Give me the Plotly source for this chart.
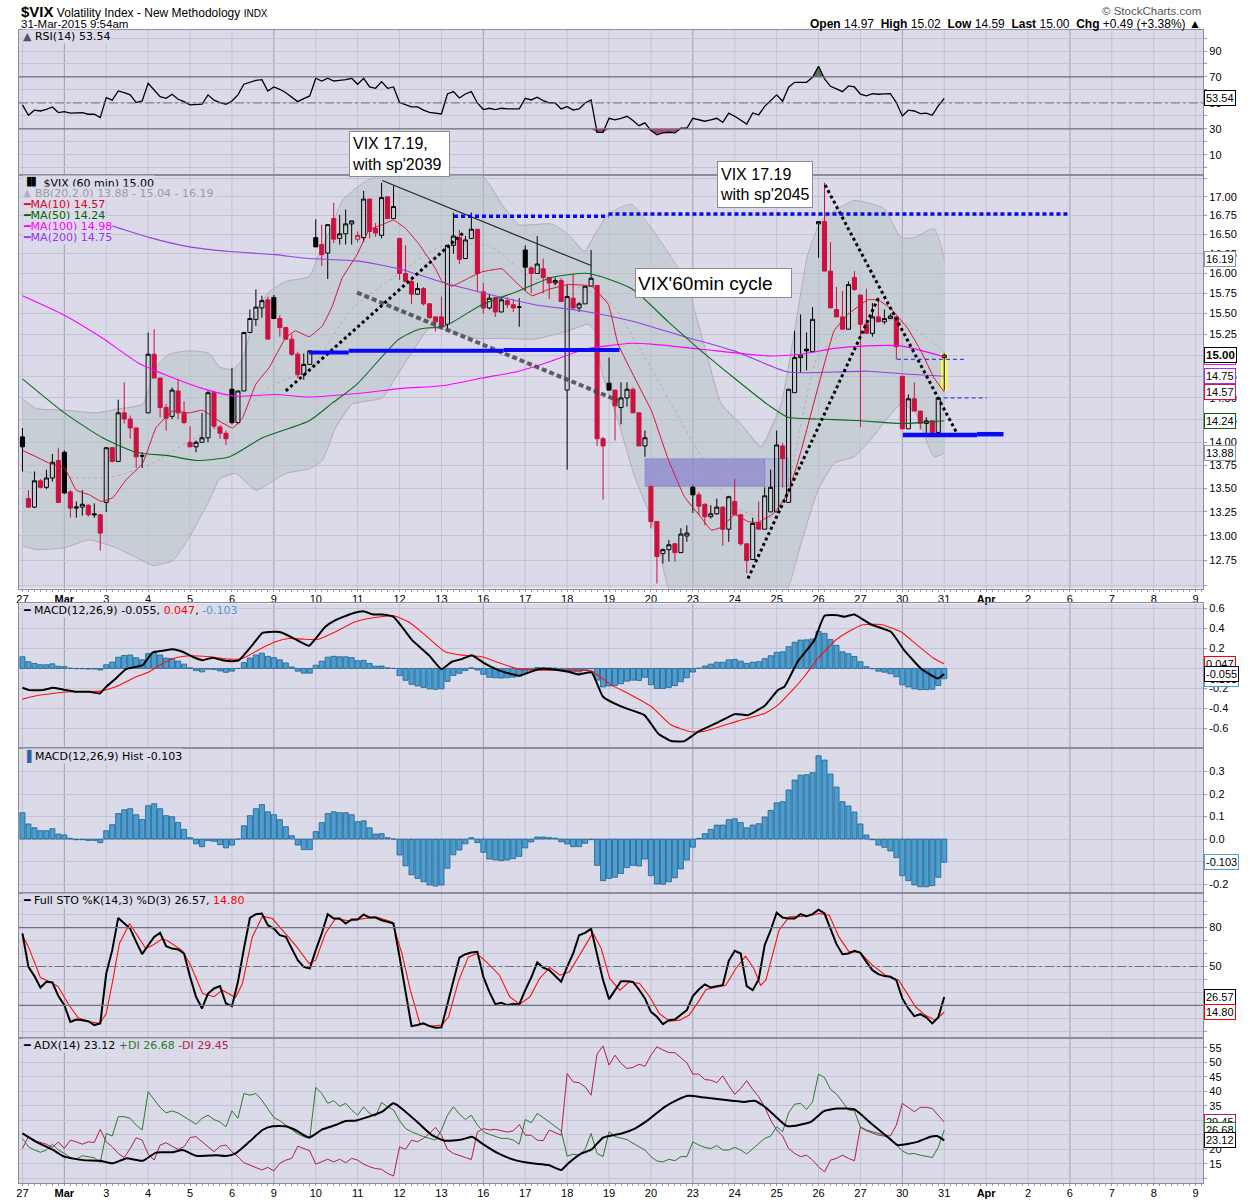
import math
import plotly.graph_objects as go

# ====================== DATA ======================
day_labels = ['27', 'Mar', '3', '4', '5', '6', '9', '10', '11', '12', '13', '16', '17', '18', '19', '20',
              '23', '24', '25', '26', '27', '30', '31', 'Apr', '2', '6', '7', '8', '9']
bars_per_day = 7
week_start_days = [1, 6, 11, 16, 21, 25]

opens = [
    14.06, 13.39, 13.30, 13.58, 13.51, 13.61, 13.80,
    13.89, 13.46, 13.29, 13.30, 13.32, 13.23, 13.22,
    13.35, 13.94, 13.79, 14.33, 14.26, 14.16, 13.85,
    14.33, 15.01, 14.73, 14.39, 14.29, 14.58, 14.33,
    14.00, 13.95, 14.00, 14.05, 14.56, 14.17, 14.10,
    14.60, 14.22, 14.58, 15.27, 15.43, 15.57, 15.67,
    15.70, 15.44, 15.33, 15.19, 15.01, 14.77, 14.89,
    16.46, 16.37, 16.26, 16.71, 16.45, 16.51, 16.64,
    16.44, 16.46, 16.97, 16.58, 16.49, 17.00, 16.71,
    16.45, 16.00, 15.90, 15.74, 15.81, 15.62, 15.46,
    15.46, 15.37, 16.36, 16.46, 16.19, 16.45, 16.57,
    15.77, 15.57, 15.70, 15.52, 15.66, 15.61, 15.58,
    16.30, 16.07, 16.00, 16.06, 15.95, 15.88, 15.91,
    14.59, 15.69, 15.57, 15.62, 15.84, 15.85, 14.04,
    14.67, 14.59, 14.39, 14.50, 14.60, 14.33, 13.96,
    13.52, 13.15, 12.82, 12.86, 12.92, 12.83, 13.00,
    13.51, 13.43, 13.33, 13.20, 13.23, 13.30, 13.07,
    13.36, 13.22, 12.92, 12.76, 13.14, 13.07, 13.25,
    13.25, 13.96, 13.35, 14.56, 14.97, 15.07, 15.04,
    16.64, 16.67, 16.03, 15.55, 15.46, 15.31, 15.95,
    15.73, 15.37, 15.26, 15.46, 15.40, 15.44, 15.46,
    14.75, 14.15, 14.49, 14.35, 14.21, 14.24, 14.11,
    14.97]
highs = [
    14.16, 13.48, 13.68, 13.60, 13.70, 13.87, 13.94,
    13.91, 13.48, 13.36, 13.48, 13.33, 13.34, 13.22,
    13.94, 13.95, 14.48, 14.68, 14.30, 14.16, 13.89,
    15.27, 15.31, 14.73, 14.43, 14.62, 14.72, 14.46,
    14.18, 14.02, 14.33, 14.58, 14.58, 14.19, 14.13,
    14.85, 14.58, 15.28, 15.55, 15.80, 15.72, 15.71,
    15.73, 15.48, 15.34, 15.25, 15.04, 15.02, 15.05,
    16.70, 16.63, 16.63, 16.92, 16.76, 16.83, 16.68,
    16.54, 17.08, 16.97, 16.65, 17.19, 17.00, 17.15,
    16.45, 16.36, 15.95, 15.88, 15.83, 15.63, 15.46,
    15.71, 16.36, 16.79, 16.56, 16.48, 16.79, 16.57,
    15.88, 15.74, 15.70, 15.70, 15.70, 15.68, 15.69,
    16.36, 16.09, 16.48, 16.19, 15.95, 15.95, 15.94,
    15.86, 16.00, 15.64, 15.84, 16.30, 15.85, 14.06,
    14.97, 14.59, 14.68, 14.68, 14.62, 14.33, 14.13,
    13.52, 13.15, 12.87, 12.96, 12.93, 13.08, 13.11,
    13.53, 13.46, 13.34, 13.32, 13.39, 13.31, 13.42,
    13.60, 13.23, 12.92, 13.19, 13.36, 13.51, 13.70,
    14.13, 13.99, 14.60, 15.29, 15.49, 15.27, 15.58,
    16.67, 17.19, 16.40, 15.83, 15.78, 15.90, 16.03,
    15.73, 15.81, 15.63, 15.70, 15.55, 15.50, 15.46,
    14.75, 14.54, 14.68, 14.35, 14.28, 14.24, 14.51,
    15.02]
lows = [
    13.68, 13.29, 13.29, 13.50, 13.49, 13.57, 13.35,
    13.44, 13.19, 13.19, 13.21, 13.20, 13.19, 12.85,
    13.25, 13.78, 13.79, 14.21, 14.04, 13.72, 13.72,
    14.33, 14.73, 14.28, 14.13, 14.26, 14.26, 14.20,
    13.95, 13.89, 14.00, 14.00, 14.15, 14.04, 13.97,
    14.20, 14.20, 14.58, 15.27, 15.35, 15.45, 15.19,
    15.44, 15.22, 15.19, 14.99, 14.73, 14.71, 14.89,
    16.34, 16.10, 15.93, 16.39, 16.37, 16.37, 16.37,
    16.40, 16.40, 16.45, 16.47, 16.45, 16.71, 16.71,
    15.92, 15.90, 15.62, 15.73, 15.60, 15.44, 15.28,
    15.34, 15.30, 16.25, 16.12, 16.19, 16.44, 15.78,
    15.50, 15.55, 15.46, 15.52, 15.57, 15.52, 15.34,
    15.78, 15.75, 16.00, 15.75, 15.68, 15.85, 15.65,
    13.70, 15.55, 15.52, 15.62, 15.84, 13.96, 13.38,
    14.59, 14.02, 14.20, 14.40, 14.33, 13.96, 13.84,
    13.08, 12.52, 12.72, 12.74, 12.74, 12.83, 12.94,
    13.24, 13.22, 13.11, 13.18, 13.22, 12.90, 12.94,
    13.22, 12.90, 12.62, 12.76, 13.07, 13.07, 13.25,
    13.25, 13.51, 13.35, 14.56, 14.79, 14.82, 15.04,
    16.20, 16.03, 15.57, 15.46, 15.31, 15.31, 15.78,
    14.17, 15.26, 15.22, 15.40, 15.37, 15.44, 14.95,
    14.15, 14.15, 14.35, 14.14, 14.10, 14.09, 14.09,
    14.59]
closes = [
    13.95, 13.30, 13.58, 13.51, 13.61, 13.78, 13.35,
    13.45, 13.29, 13.30, 13.33, 13.22, 13.22, 13.03,
    13.94, 13.79, 14.33, 14.26, 14.16, 13.84, 13.85,
    15.01, 14.73, 14.39, 14.27, 14.59, 14.33, 14.22,
    13.95, 14.00, 14.05, 14.56, 14.18, 14.10, 14.04,
    14.22, 14.58, 15.27, 15.44, 15.58, 15.66, 15.19,
    15.44, 15.33, 15.19, 15.01, 14.77, 14.89, 15.05,
    16.34, 16.24, 16.63, 16.44, 16.51, 16.64, 16.68,
    16.49, 16.97, 16.54, 16.52, 16.99, 16.71, 16.87,
    16.00, 15.90, 15.74, 15.81, 15.62, 15.45, 15.40,
    15.34, 16.36, 16.48, 16.18, 16.43, 16.57, 16.00,
    15.57, 15.69, 15.52, 15.67, 15.61, 15.57, 15.58,
    16.08, 16.00, 16.12, 15.95, 15.88, 15.91, 15.65,
    15.71, 15.57, 15.62, 15.84, 15.94, 14.04, 13.96,
    14.59, 14.41, 14.50, 14.60, 14.33, 13.96, 14.05,
    13.15, 12.79, 12.86, 12.91, 12.83, 13.02, 13.03,
    13.43, 13.31, 13.20, 13.23, 13.30, 13.07, 13.41,
    13.22, 12.92, 12.75, 13.13, 13.07, 13.42, 13.51,
    13.97, 13.82, 14.60, 14.97, 15.00, 15.05, 15.43,
    16.67, 16.03, 15.57, 15.46, 15.31, 15.86, 15.80,
    15.37, 15.26, 15.46, 15.40, 15.44, 15.47, 15.10,
    14.15, 14.49, 14.35, 14.21, 14.24, 14.11, 14.50,
    15.00]
prev_day_close = 14.51

# overlays: (bar index, value)
ma10_pts = [(0, 13.91), (2.3, 13.84), (4.5, 13.77), (7, 13.72), (9, 13.48), (11.2, 13.43), (13.1, 13.36),
            (15.1, 13.40), (17.3, 13.59), (20.1, 13.77), (22.3, 14.16), (25.1, 14.35), (27.9, 14.33),
            (30.1, 14.36), (32.3, 14.26), (35.1, 14.16), (36.75, 14.27), (39, 14.66), (41.2, 14.85),
            (44, 15.21), (45.6, 15.29), (47.9, 15.22), (50.1, 15.35), (51.75, 15.59), (53.4, 15.94),
            (55.9, 16.24), (57.9, 16.56), (60.1, 16.63), (62, 16.69), (64, 16.58), (66.2, 16.38),
            (69, 16.06), (70.1, 15.90), (71.75, 15.84), (74.5, 15.94), (76.75, 16.02), (80.1, 16.06),
            (82.3, 15.90), (85.1, 15.72), (87.9, 15.80), (91.2, 15.86), (95.1, 15.84), (97.9, 15.61),
            (99.5, 15.13), (102.3, 14.73), (105.1, 14.35), (107.9, 13.81), (110.6, 13.41), (113.4, 13.19),
            (115.1, 13.06), (116.75, 13.09), (119, 13.22), (121.2, 13.15), (122.9, 13.14), (125.6, 13.24),
            (127.9, 13.45), (130.1, 13.91), (132.9, 14.62), (135.6, 15.29), (137.9, 15.49), (141.25, 15.67),
            (142.9, 15.67), (145.1, 15.56), (147.9, 15.32), (150.1, 15.05), (152.3, 14.73), (154, 14.57)]
ma50_pts = [(0, 14.72), (7, 14.33), (13.4, 14.05), (19, 13.89), (24.6, 13.85), (29, 13.80), (34.6, 13.84),
            (40.1, 14.05), (47.9, 14.24), (51.75, 14.44), (55.9, 14.66), (62.9, 15.19), (66.3, 15.31),
            (70.6, 15.35), (76.75, 15.61), (82.9, 15.78), (88.4, 15.95), (94.6, 16.00), (101.75, 15.81),
            (107.9, 15.40), (113.4, 15.05), (118.9, 14.73), (124.6, 14.42), (127.9, 14.28), (132.9, 14.26),
            (140.1, 14.24), (146.75, 14.21), (150.1, 14.22), (154, 14.24)]
ma100_pts = [(0, 15.72), (7, 15.48), (13.4, 15.20), (19.5, 14.90), (24.5, 14.75), (30, 14.61), (35.6, 14.52),
             (42.25, 14.54), (47.9, 14.51), (55.9, 14.55), (63.4, 14.61), (70.1, 14.64), (76.75, 14.73),
             (82.9, 14.81), (88.4, 14.93), (94, 15.07), (101.75, 15.14), (105.1, 15.13), (113.4, 15.07),
             (124.5, 14.99), (130, 15.01), (135.6, 15.08), (141.25, 15.11), (146.75, 15.11), (154, 14.98)]
ma200_pts = [(0, 16.88), (11.75, 16.73), (13.4, 16.66), (21.3, 16.46), (27.9, 16.34), (34.6, 16.28),
             (42.25, 16.24), (47.9, 16.19), (55.9, 16.16), (62.9, 16.06), (70.1, 15.89), (77.9, 15.74),
             (85.6, 15.61), (93.9, 15.53), (101.75, 15.41), (110.6, 15.22), (118.9, 15.05), (127.9, 14.80),
             (135.6, 14.80), (141.25, 14.81), (146.75, 14.78), (154, 14.75)]
bb_upper_pts = [(0, 14.49), (2.3, 14.38), (7, 14.36), (12.3, 14.33), (15.6, 14.37), (20.1, 14.43), (22.3, 14.86),
                (24.5, 15.01), (27.9, 15.05), (31.2, 15.02), (32.9, 14.86), (35.1, 14.83), (36.75, 14.95),
                (39, 15.52), (41.2, 15.77), (44, 15.90), (47.9, 15.96), (49.5, 16.24), (51.75, 16.62),
                (53.4, 16.95), (56.75, 17.18), (60.6, 17.33), (63.4, 17.40), (68.4, 17.45), (73.4, 17.40),
                (76.2, 17.33), (77.9, 17.18), (80.1, 16.90), (82.9, 16.63), (88.4, 16.64), (91.2, 16.50),
                (93.9, 16.28), (95.6, 16.50), (97.9, 16.77), (101.75, 16.90), (105.1, 16.58), (110.6, 15.93),
                (114.5, 14.96), (116.75, 14.43), (120.1, 14.20), (123.4, 13.95), (126.75, 14.43), (129, 15.29),
                (131.2, 16.24), (133.4, 16.68), (135.6, 16.81), (138.9, 16.95), (141.25, 16.92), (144, 16.84),
                (146.75, 16.46), (149, 16.46), (152.3, 16.58), (154, 16.19)]
bb_lower_pts = [(0, 12.90), (2.3, 12.86), (7, 12.88), (11.2, 12.96), (15.6, 12.88), (19, 12.78), (21.75, 12.70),
                (25.1, 12.75), (27.9, 12.99), (31.2, 13.37), (32.9, 13.60), (35.6, 13.66), (39, 13.48),
                (44, 13.66), (47.9, 13.71), (50.1, 13.80), (52.3, 14.16), (55.1, 14.43), (60.1, 14.50),
                (62.3, 14.73), (65.6, 15.09), (67.9, 15.32), (71.75, 15.29), (75.6, 15.20), (80.1, 15.20),
                (85.6, 15.19), (91.2, 15.29), (94.5, 15.37), (95.6, 15.29), (96.75, 14.81), (99.5, 14.24),
                (102.3, 13.62), (105.1, 13.17), (107.9, 12.48), (110, 12.25), (116.75, 12.10), (123.4, 12.20),
                (127.9, 12.48), (130.1, 12.93), (132.9, 13.48), (135.6, 13.77), (138.9, 13.84), (141.25, 13.99),
                (144.5, 14.27), (146.75, 14.43), (149, 14.35), (151.2, 13.99), (152.3, 13.84), (154, 13.88)]
bb_mid_pts = [(0, 13.68), (7, 13.62), (15, 13.62), (22, 13.78), (28, 14.02), (35, 14.25), (42, 14.65),
              (48, 14.84), (55, 15.55), (62, 15.95), (70, 16.35), (78, 16.35), (85, 15.95), (92, 15.85),
              (98, 15.65), (105, 14.85), (112, 14.00), (119, 13.30), (126, 13.20), (133, 15.00), (140, 15.40),
              (147, 15.40), (154, 15.04)]

rsi = [48.5, 40.5, 44.4, 43.8, 45.1, 46.9, 42.6, 43.3, 42.1, 42.1, 42.6, 41.3, 41.3, 38.7,
       54.1, 52.1, 59.2, 57.9, 56.2, 50.3, 51.5, 65.2, 59.8, 54.9, 53.6, 56.7, 52.8, 51.0,
       48.5, 49.0, 49.0, 56.2, 52.1, 50.3, 49.0, 51.5, 56.2, 64.4, 65.9, 67.4, 67.9, 59.2,
       62.3, 60.5, 57.9, 54.1, 51.0, 53.3, 55.4, 69.0, 66.9, 69.0, 66.9, 67.4, 67.9, 69.0,
       64.4, 69.0, 62.3, 61.3, 66.4, 61.3, 62.3, 50.3, 48.5, 46.9, 46.9, 44.5, 42.8, 42.0,
       41.5, 56.9, 58.7, 53.8, 56.9, 58.7, 50.0, 44.9, 45.9, 44.9, 45.9, 45.4, 45.4, 45.4,
       53.6, 52.3, 54.4, 51.8, 50.0, 50.0, 45.4, 47.2, 44.6, 45.4, 50.0, 52.3, 27.4, 27.4,
       38.2, 36.9, 38.2, 39.7, 36.4, 32.5, 34.6, 28.7, 25.4, 26.9, 27.4, 26.9, 30.5, 30.5,
       38.2, 37.2, 35.9, 36.9, 38.2, 35.1, 42.1, 39.7, 36.4, 33.8, 42.3, 40.8, 47.4, 51.8,
       56.2, 51.3, 62.1, 65.9, 65.9, 65.9, 69.8, 78.2, 68.5, 62.8, 60.8, 58.7, 63.1, 62.3,
       56.7, 55.4, 57.2, 56.7, 57.0, 57.2, 50.3, 40.0, 44.4, 43.8, 41.8, 42.1, 40.5, 47.7,
       53.54]

macd_pts = [(0, -0.193), (1.2, -0.217), (3.4, -0.217), (5.1, -0.193), (6.75, -0.21), (9, -0.233), (11.2, -0.233),
            (12.9, -0.25), (14, -0.183), (15.6, -0.10), (17.3, -0.007), (19, 0.017), (20.1, 0.033), (21.75, 0.16),
            (23.4, 0.177), (25.1, 0.193), (26.75, 0.167), (28.4, 0.117), (30.1, 0.083), (31.75, 0.107),
            (33.4, 0.083), (35.1, 0.073), (36.2, 0.083), (38.4, 0.233), (40.1, 0.357), (42.3, 0.367),
            (43.4, 0.357), (45.6, 0.293), (47.9, 0.227), (49, 0.30), (50.6, 0.417), (52.3, 0.483), (55.1, 0.55),
            (57, 0.573), (58.4, 0.543), (60.1, 0.54), (62, 0.517), (63.4, 0.417), (65.1, 0.283), (67.9, 0.133),
            (70, -0.007), (71.75, 0.067), (73.4, 0.093), (75.1, 0.133), (77.2, 0.05), (79.5, -0.017),
            (82.9, -0.073), (86.2, -0.007), (88.4, -0.007), (91.2, -0.033), (92.9, -0.06), (95.1, -0.04),
            (97, -0.283), (100.1, -0.383), (103.9, -0.467), (106.2, -0.65), (108.4, -0.727), (110.6, -0.727),
            (112.9, -0.633), (116.2, -0.54), (119, -0.457), (121.2, -0.467), (124, -0.373), (126.2, -0.217),
            (127.3, -0.183), (129.5, 0.067), (132.3, 0.283), (134, 0.527), (136.2, 0.533), (137.3, 0.517),
            (139, 0.54), (141.75, 0.44), (145.1, 0.367), (147.3, 0.183), (150.1, 0.0), (152.9, -0.10),
            (154, -0.055)]
signal_pts = [(0, -0.307), (2.3, -0.273), (5.1, -0.25), (7.9, -0.233), (12.9, -0.227), (15.6, -0.183),
              (19, -0.083), (21.2, -0.033), (23.4, 0.05), (25.6, 0.107), (27.9, 0.127), (31.2, 0.117),
              (34.5, 0.093), (36.75, 0.10), (40.1, 0.207), (42.3, 0.267), (44.5, 0.30), (46.75, 0.293),
              (49.5, 0.293), (52.3, 0.367), (55.6, 0.467), (58.9, 0.51), (62, 0.527), (64.5, 0.467),
              (67.3, 0.333), (70.6, 0.167), (73.4, 0.133), (76.75, 0.117), (79.5, 0.06), (82.9, -0.007),
              (87.3, -0.017), (91.75, -0.017), (95.1, -0.027), (98.4, -0.167), (101.2, -0.25), (105.1, -0.383),
              (108.4, -0.567), (111.75, -0.633), (114, -0.627), (119.5, -0.527), (124, -0.45), (126.2, -0.367),
              (128.4, -0.233), (130.6, -0.083), (132.9, 0.10), (136.2, 0.30), (140.1, 0.433), (143.4, 0.44),
              (146.75, 0.367), (149.5, 0.233), (152.3, 0.10), (154, 0.047)]
macd_hist = [0.117, 0.067, 0.050, 0.037, 0.037, 0.046, 0.022,
             0.018, 0.003, -0.003, -0.003, -0.006, -0.006, -0.016,
             0.037, 0.064, 0.113, 0.130, 0.135, 0.108, 0.087,
             0.148, 0.157, 0.135, 0.104, 0.099, 0.074, 0.043,
             0.006, -0.021, -0.034, -0.007, -0.010, -0.025, -0.039,
             -0.027, 0.000, 0.059, 0.104, 0.135, 0.153, 0.121,
             0.108, 0.086, 0.055, 0.015, -0.027, -0.047, -0.047,
             0.033, 0.073, 0.113, 0.121, 0.117, 0.117, 0.108,
             0.077, 0.081, 0.050, 0.022, 0.024, 0.006, 0.000,
             -0.071, -0.119, -0.159, -0.175, -0.190, -0.204, -0.209,
             -0.204, -0.130, -0.070, -0.049, -0.021, 0.006, -0.016,
             -0.059, -0.089, -0.093, -0.096, -0.093, -0.087, -0.077,
             -0.039, -0.013, 0.009, 0.009, 0.006, 0.004, -0.012,
             -0.022, -0.034, -0.034, -0.019, -0.003, -0.117, -0.185,
             -0.175, -0.170, -0.153, -0.127, -0.117, -0.120, -0.089,
             -0.163, -0.200, -0.201, -0.190, -0.172, -0.133, -0.093,
             -0.036, 0.003, 0.024, 0.043, 0.062, 0.062, 0.086,
             0.090, 0.073, 0.050, 0.062, 0.068, 0.098, 0.127,
             0.161, 0.166, 0.218, 0.262, 0.284, 0.286, 0.295,
             0.370, 0.351, 0.289, 0.231, 0.166, 0.147, 0.120,
             0.067, 0.018, -0.003, -0.027, -0.037, -0.053, -0.083,
             -0.163, -0.185, -0.204, -0.212, -0.212, -0.207, -0.170,
             -0.103]

sto_k = [75.4, 49.7, 42.6, 33.8, 38.2, 37.7, 27.2, 20.3, 7.4, 9.2, 8.7, 7.9, 4.9, 6.2,
         44.6, 62.6, 87.4, 83.1, 79.2, 69.0, 59.5, 66.4, 72.8, 75.9, 65.6, 63.8, 63.1, 60.0,
         42.1, 26.7, 17.7, 29.2, 33.1, 34.9, 21.5, 19.5, 38.2, 63.8, 87.4, 90.3, 90.8, 81.8,
         79.2, 74.1, 72.8, 63.8, 54.9, 49.7, 48.5, 62.6, 75.4, 90.3, 86.9, 86.9, 83.1, 86.2,
         86.2, 90.0, 87.7, 87.7, 85.6, 84.4, 83.1, 57.4, 31.8, 4.1, 4.9, 6.2, 4.1, 2.8,
         3.1, 21.5, 40.8, 56.9, 59.5, 60.8, 61.3, 42.1, 30.5, 21.0, 22.1, 20.3, 21.3, 20.8,
         31.8, 41.5, 53.1, 49.2, 47.2, 42.6, 38.2, 49.7, 60.0, 74.1, 75.9, 79.2, 60.0, 39.5,
         24.9, 31.8, 38.7, 38.7, 38.2, 32.3, 25.4, 15.1, 11.3, 5.6, 8.7, 9.2, 12.6, 16.4,
         27.2, 32.3, 36.2, 33.8, 34.9, 35.6, 54.4, 62.1, 60.0, 34.9, 31.8, 40.0, 66.4, 77.9,
         91.5, 87.7, 86.9, 86.9, 90.3, 88.7, 90.3, 93.8, 90.8, 79.2, 67.2, 59.5, 60.0, 62.1,
         60.5, 53.6, 47.2, 44.1, 42.6, 42.1, 39.5, 25.4, 17.7, 11.8, 13.3, 10.8, 6.2, 10.8,
         26.57]
sto_d_pts = [(0, 74.1), (1, 65.1), (3, 41.5), (5, 37.4), (6, 34.4), (7.6, 21.5), (9.3, 10.5), (11.2, 7.4),
             (12.9, 6.2), (14, 13.8), (15.1, 39.5), (16.2, 67.7), (17.9, 83.1), (19, 75.4), (20.6, 63.8),
             (21.75, 66.4), (23.4, 71.5), (24.5, 69.0), (26.75, 62.1), (28.1, 51.0), (30.1, 29.2), (32, 26.7),
             (33.4, 31.8), (35.6, 26.2), (36.75, 36.9), (38.4, 72.8), (40.1, 88.7), (41.75, 86.9), (44, 75.4),
             (45.6, 66.4), (47.9, 52.3), (49, 54.9), (50.6, 75.4), (52.3, 86.9), (54.5, 85.1), (56.75, 86.9),
             (59, 88.2), (61.75, 84.4), (63.4, 60.0), (64.8, 31.8), (66.4, 6.2), (68.4, 4.1), (70.1, 4.9),
             (71.2, 11.3), (72.9, 39.5), (74.5, 57.4), (75.9, 60.0), (77.5, 53.6), (79.7, 43.3), (81.4, 26.7),
             (83.1, 21.0), (84.8, 26.7), (86.4, 40.8), (88.1, 49.2), (89.8, 43.3), (91.4, 45.9), (93.1, 58.7),
             (95.3, 75.9), (96.7, 63.8), (98.1, 40.8), (99.8, 31.8), (101.4, 38.2), (103.1, 36.9), (104.8, 26.7),
             (106.4, 13.8), (108.1, 7.9), (109.8, 8.7), (111.4, 12.6), (113.1, 24.1), (114.2, 32.3),
             (116.4, 34.4), (117.5, 35.6), (119.2, 48.5), (120.8, 57.9), (122.2, 48.5), (123.3, 35.6),
             (124.2, 39.5), (126.4, 77.9), (128.1, 88.2), (130.9, 88.7), (133.1, 90.8), (134.8, 89.5),
             (136.4, 72.8), (138.1, 61.3), (139.8, 61.3), (142, 51.0), (144.2, 43.3), (146.4, 39.5),
             (149.2, 19.0), (150.8, 12.6), (152.5, 8.7), (154, 14.80)]

adx_pts = [(0, 25.5), (2.3, 22.6), (5.1, 19.8), (7, 17.5), (10.1, 16.3), (12.9, 16.1), (15.1, 15.2), (17.3, 16.9),
           (20.1, 16.1), (22.3, 18.9), (25.1, 19.0), (26.75, 19.8), (29, 17.8), (32.3, 18.0), (34, 17.7),
           (35.6, 18.6), (37.9, 22.6), (40.1, 26.7), (41.75, 28.0), (44, 28.0), (45.6, 26.7), (47.9, 24.1),
           (50.1, 26.9), (52.3, 28.4), (54, 29.8), (55.6, 29.9), (57.9, 31.3), (60.1, 33.0), (62, 35.9),
           (64, 33.0), (66.2, 29.0), (68.4, 24.9), (70.6, 23.0), (73.4, 23.4), (75.1, 24.4), (76.75, 22.1),
           (79.5, 18.6), (82.3, 16.3), (85.1, 15.2), (87.9, 14.6), (90, 12.9), (91.2, 15.2), (93.4, 18.6),
           (95.1, 20.0), (97, 24.1), (100.1, 25.5), (102.3, 27.2), (104.5, 30.1), (107.3, 34.7), (109.5, 37.2),
           (111.2, 38.5), (114, 37.9), (116.75, 37.2), (120.6, 36.4), (122.3, 36.8), (124, 34.7), (125.6, 31.8),
           (127.8, 28.0), (131.7, 29.5), (133.9, 33.2), (136.2, 34.1), (139, 33.8), (141.75, 29.0),
           (144.5, 24.4), (146.2, 21.5), (149.5, 22.6), (151.7, 24.4), (152.8, 24.6), (154, 23.12)]
plus_di = [23.8, 20.9, 19.8, 19.0, 19.8, 21.8, 19.8, 18.6, 17.1, 16.6, 17.8, 17.5, 17.1, 15.5,
           25.5, 24.6, 31.3, 31.3, 30.7, 28.4, 26.7, 39.9, 37.0, 34.5, 32.6, 33.3, 32.6, 31.3,
           30.1, 28.7, 30.7, 31.8, 30.3, 29.5, 27.8, 33.3, 30.7, 39.3, 38.7, 39.3, 37.0, 34.1,
           31.0, 29.9, 28.4, 26.9, 25.3, 24.4, 23.8, 41.4, 39.3, 35.9, 36.8, 34.9, 35.9, 33.6,
           31.8, 34.7, 32.4, 31.5, 36.2, 34.7, 33.6, 29.9, 27.2, 26.1, 25.2, 24.4, 23.8, 23.2,
           26.7, 31.8, 34.7, 32.2, 30.3, 31.8, 28.4, 26.1, 25.2, 24.4, 23.8, 23.8, 23.2, 21.8,
           30.3, 29.2, 32.4, 31.0, 29.5, 28.0, 26.4, 17.7, 18.3, 18.0, 20.0, 25.5, 18.6, 17.5,
           26.1, 24.4, 24.0, 23.4, 22.1, 20.9, 19.8, 17.5, 16.0, 15.7, 16.6, 16.1, 17.5, 17.5,
           22.6, 21.5, 20.7, 20.3, 21.3, 19.8, 19.8, 20.7, 19.8, 18.4, 20.3, 22.1, 23.8, 24.6,
           27.8, 26.1, 32.6, 35.6, 35.9, 33.8, 36.4, 46.0, 44.8, 40.7, 39.1, 36.4, 33.6, 33.3,
           27.6, 26.4, 25.7, 24.9, 24.6, 23.8, 21.5, 19.5, 18.4, 18.6, 18.0, 17.7, 17.2, 20.7,
           26.68]
minus_di = [20.3, 24.4, 23.0, 22.3, 21.8, 20.7, 22.6, 20.3, 23.2, 22.6, 21.8, 22.6, 22.4, 26.9,
            22.6, 20.9, 18.6, 17.2, 20.3, 24.0, 23.2, 18.4, 16.3, 21.5, 22.3, 21.1, 20.0, 20.9,
            24.1, 24.4, 22.6, 20.7, 19.2, 21.1, 21.5, 19.2, 17.5, 15.4, 14.6, 13.8, 12.9, 13.8,
            12.6, 15.2, 16.3, 16.9, 21.1, 20.3, 19.5, 14.9, 15.7, 16.6, 15.7, 16.6, 15.4, 16.9,
            16.3, 14.9, 14.0, 13.4, 13.1, 11.7, 10.8, 20.9, 20.0, 23.2, 22.6, 23.8, 25.5, 27.6,
            24.9, 20.0, 18.6, 17.8, 17.2, 16.5, 26.0, 27.2, 26.7, 26.9, 26.4, 26.0, 26.4, 28.6,
            24.9, 24.9, 23.2, 23.0, 26.7, 25.7, 24.9, 46.2, 43.3, 43.0, 41.6, 38.7, 52.9, 55.7,
            49.1, 52.5, 49.7, 47.9, 48.3, 49.4, 48.7, 52.5, 55.4, 54.3, 53.4, 53.4, 51.6, 49.9,
            46.0, 46.0, 44.1, 43.9, 43.0, 45.4, 42.0, 39.0, 41.0, 43.7, 40.7, 38.2, 34.7, 30.1,
            26.7, 24.6, 20.3, 18.6, 17.5, 18.0, 16.3, 14.0, 12.2, 16.3, 16.9, 18.0, 16.9, 16.1,
            27.8, 26.7, 26.1, 25.5, 24.9, 24.6, 28.4, 35.9, 34.5, 33.0, 34.5, 34.5, 34.1, 31.8,
            29.45]

# hand-drawn chart annotations, as (bar index, price)
resistance_dotted = [[(72.1, 16.74), (97.9, 16.74)], [(97.9, 16.77), (174.75, 16.77)]]
support_solid_mid = [[(47.9, 15.03), (54.5, 15.03)], [(54.5, 15.05), (80.4, 15.05)], [(80.4, 15.06), (99.75, 15.06)]]
support_solid_low = [[(147.1, 14.08), (159.5, 14.08)], [(159.5, 14.09), (163.9, 14.09)]]
thin_dashed_levels = [[(146.1, 14.95), (157.8, 14.95)], [(153.9, 14.50), (161.1, 14.50)]]
thin_trendline = [(60.1, 17.22), (95.0, 16.10)]
black_dotted_lines = [[(44.0, 14.58), (73.9, 16.54)], [(121.2, 12.57), (143.1, 15.71)], [(134.1, 17.16), (156.2, 14.09)]]
gray_dashed_line = [(55.9, 15.76), (99.5, 14.47)]
zone_purple = [(104.0, 13.52), (124.0, 13.82)]
zone_gray = [(124.0, 13.52), (128.0, 13.82)]
note_texts = ["VIX 17.19,<br>with sp'2039", "VIX 17.19<br>with sp'2045", "VIX'60min cycle"]

# ====================== STYLE / LAYOUT ======================
W, H = 1250, 1200
BG = '#dadae8'
GRID = '#c3c3d4'
WEEK = '#9e9eb2'
AXL = '#8c8c9a'
DARK = '#707080'
RED = '#cc1140'
TICKFONT = 'Liberation Sans, Arial, sans-serif'
LEGFONT = 'DejaVu Sans, Verdana, sans-serif'

X0, X1 = 16, 1203
BAR0, BARW = 19.5, 6.0
xr = [(X0 - BAR0) / BARW, (X1 - BAR0) / BARW]


def xpx(px):
    return px / W


def ypx(py):
    return 1 - py / H


panels = {'': (29, 174), '2': (174, 588), '3': (603, 748), '4': (748, 893), '5': (893, 1038), '6': (1038, 1183)}

lg_lo = math.log10(12.75) - 28 / 2913
lg_hi = math.log10(17.0) + 22 / 2913

n = len(closes)
idx = list(range(n))
tickvals = [bars_per_day * k for k in range(len(day_labels))]
ticktext = ['<b>%s</b>' % t if t in ('Mar', 'Apr') else t for t in day_labels]


def xs(pts):
    return [p[0] for p in pts]


def ys(pts):
    return [p[1] for p in pts]


fig = go.Figure()

# ---- RSI panel ----
rsi_hi = [max(v, 70) for v in rsi]
rsi_lo = [min(v, 30) for v in rsi]
fig.add_trace(go.Scatter(x=idx, y=[70] * n, mode='lines', line=dict(width=0), hoverinfo='skip', xaxis='x', yaxis='y'))
fig.add_trace(go.Scatter(x=idx, y=rsi_hi, mode='lines', line=dict(width=0), fill='tonexty', fillcolor='#5f7464',
                         hoverinfo='skip', xaxis='x', yaxis='y'))
fig.add_trace(go.Scatter(x=idx, y=[30] * n, mode='lines', line=dict(width=0), hoverinfo='skip', xaxis='x', yaxis='y'))
fig.add_trace(go.Scatter(x=idx, y=rsi_lo, mode='lines', line=dict(width=0), fill='tonexty', fillcolor='#b24a78',
                         hoverinfo='skip', xaxis='x', yaxis='y'))
fig.add_trace(go.Scatter(x=idx, y=rsi, mode='lines', line=dict(color='black', width=1.3), xaxis='x', yaxis='y'))

# ---- Main price panel: base layer (y2) ----
bb_poly_x = xs(bb_upper_pts) + xs(bb_lower_pts)[::-1]
bb_poly_y = ys(bb_upper_pts) + ys(bb_lower_pts)[::-1]
fig.add_trace(go.Scatter(x=bb_poly_x, y=bb_poly_y, mode='lines', fill='toself', fillcolor='rgba(180,193,195,0.5)',
                         line=dict(width=0), hoverinfo='skip', xaxis='x2', yaxis='y2'))
for pts in (bb_upper_pts, bb_lower_pts):
    fig.add_trace(go.Scatter(x=xs(pts), y=ys(pts), mode='lines',
                             line=dict(color='#b9a9ba', width=1, shape='spline', smoothing=0.5),
                             hoverinfo='skip', xaxis='x2', yaxis='y2'))
fig.add_trace(go.Scatter(x=xs(bb_mid_pts), y=ys(bb_mid_pts), mode='lines',
                         line=dict(color='#c4a4b6', width=1, dash='dot', shape='spline', smoothing=0.6),
                         hoverinfo='skip', xaxis='x2', yaxis='y2'))
for zone, col in ((zone_purple, 'rgba(118,108,205,0.55)'), (zone_gray, 'rgba(170,172,205,0.65)')):
    (za, zb) = zone
    fig.add_trace(go.Scatter(x=[za[0], zb[0], zb[0], za[0], za[0]], y=[za[1], za[1], zb[1], zb[1], za[1]],
                             mode='lines', fill='toself', fillcolor=col,
                             line=dict(width=0.6, color='rgba(90,90,190,0.5)'),
                             hoverinfo='skip', xaxis='x2', yaxis='y2'))
last = n - 1
fig.add_trace(go.Scatter(x=[last - 0.55, last + 0.55, last + 0.55, last - 0.55, last - 0.55],
                         y=[lows[last], lows[last], highs[last], highs[last], lows[last]],
                         mode='lines', fill='toself', fillcolor='rgba(255,255,80,0.9)', line=dict(width=0),
                         hoverinfo='skip', xaxis='x2', yaxis='y2'))

# ---- candles (overlay y7) ----
black_ids = [i for i in idx if i == 0 or closes[i] >= closes[i - 1]]
black_set = set(black_ids)
red_ids = [i for i in idx if i not in black_set]
for ids, col in ((black_ids, 'black'), (red_ids, RED)):
    fig.add_trace(go.Candlestick(
        x=ids, open=[opens[i] for i in ids], high=[highs[i] for i in ids],
        low=[lows[i] for i in ids], close=[closes[i] for i in ids],
        increasing=dict(line=dict(color=col, width=1), fillcolor='rgba(0,0,0,0)'),
        decreasing=dict(line=dict(color=col, width=1), fillcolor=col),
        whiskerwidth=0, hoverinfo='skip', xaxis='x2', yaxis='y7'))

# ---- moving averages + drawings (overlay y8) ----
for pts, col, w, sm in ((ma200_pts, '#9a3ee6', 1.1, 0.6), (ma100_pts, '#ff00ff', 1.1, 0.6),
                        (ma50_pts, '#0b6b1b', 1.1, 0.6), (ma10_pts, '#dd1133', 1.0, 0.3)):
    fig.add_trace(go.Scatter(x=xs(pts), y=ys(pts), mode='lines',
                             line=dict(color=col, width=w, shape='spline', smoothing=sm),
                             hoverinfo='skip', xaxis='x2', yaxis='y8'))


def seg_trace(segs, color, width, dash=None):
    xx, yy = [], []
    for s in segs:
        xx += [s[0][0], s[1][0], None]
        yy += [s[0][1], s[1][1], None]
    return go.Scatter(x=xx, y=yy, mode='lines', line=dict(color=color, width=width, dash=dash),
                      hoverinfo='skip', xaxis='x2', yaxis='y8')


fig.add_trace(seg_trace([thin_trendline], '#222222', 1.1))
fig.add_trace(seg_trace([gray_dashed_line], 'rgba(70,70,70,0.85)', 4, '5px,3px'))
fig.add_trace(seg_trace(black_dotted_lines, 'black', 3, '3px,3px'))
fig.add_trace(seg_trace(resistance_dotted, '#0a0aee', 3.5, '4px,3px'))
fig.add_trace(seg_trace(support_solid_mid, '#0a0af5', 4))
fig.add_trace(seg_trace(support_solid_low, '#0a0af5', 4.5))
fig.add_trace(seg_trace(thin_dashed_levels, '#1a1aee', 1, '4px,3px'))

# ---- MACD panel ----
fig.add_trace(go.Bar(x=idx, y=macd_hist, width=0.85,
                     marker=dict(color='#4c9dd0', line=dict(color='#1f5f8a', width=0.8)),
                     hoverinfo='skip', xaxis='x3', yaxis='y3'))
fig.add_trace(go.Scatter(x=xs(signal_pts), y=ys(signal_pts), mode='lines',
                         line=dict(color='#ff1010', width=1.1, shape='spline', smoothing=0.5),
                         hoverinfo='skip', xaxis='x3', yaxis='y3'))
fig.add_trace(go.Scatter(x=xs(macd_pts), y=ys(macd_pts), mode='lines',
                         line=dict(color='black', width=2, shape='spline', smoothing=0.4),
                         hoverinfo='skip', xaxis='x3', yaxis='y3'))

# ---- MACD hist panel ----
fig.add_trace(go.Bar(x=idx, y=macd_hist, width=0.85,
                     marker=dict(color='#4c9dd0', line=dict(color='#1f5f8a', width=0.8)),
                     hoverinfo='skip', xaxis='x4', yaxis='y4'))

# ---- STO panel ----
fig.add_trace(go.Scatter(x=xs(sto_d_pts), y=ys(sto_d_pts), mode='lines', line=dict(color='#ff1010', width=1.1),
                         hoverinfo='skip', xaxis='x5', yaxis='y5'))
fig.add_trace(go.Scatter(x=idx, y=sto_k, mode='lines', line=dict(color='black', width=2),
                         hoverinfo='skip', xaxis='x5', yaxis='y5'))

# ---- ADX panel ----
fig.add_trace(go.Scatter(x=idx, y=minus_di, mode='lines', line=dict(color='#b01e4e', width=1),
                         hoverinfo='skip', xaxis='x6', yaxis='y6'))
fig.add_trace(go.Scatter(x=idx, y=plus_di, mode='lines', line=dict(color='#2b7b2b', width=1),
                         hoverinfo='skip', xaxis='x6', yaxis='y6'))
fig.add_trace(go.Scatter(x=xs(adx_pts), y=ys(adx_pts), mode='lines',
                         line=dict(color='black', width=2, shape='spline', smoothing=0.5),
                         hoverinfo='skip', xaxis='x6', yaxis='y6'))

# ---------------- axes ----------------
layout = dict(width=W, height=H, margin=dict(l=0, r=0, t=0, b=0), autosize=False,
              paper_bgcolor='white', plot_bgcolor=BG, showlegend=False,
              boxgap=0.2, boxgroupgap=0.15,
              font=dict(family=TICKFONT, size=11, color='black'))

yconf = {
    '': dict(range=[-5.4, 106.2], tickvals=list(range(0, 101, 10)),
             ticktext=[str(v) if v in (10, 30, 50, 70, 90) else '' for v in range(0, 101, 10)]),
    '2': dict(type='log', range=[lg_lo, lg_hi], tickvals=[12.5 + 0.25 * k for k in range(20)],
              ticktext=['%.2f' % (12.5 + 0.25 * k) if 1 <= k <= 18 else '' for k in range(20)]),
    '3': dict(range=[-0.80, 0.65], tickvals=[-0.6, -0.4, -0.2, 0.0, 0.2, 0.4, 0.6],
              ticktext=['-0.6', '-0.4', '-0.2', '0.0', '0.2', '0.4', '0.6']),
    '4': dict(range=[-0.241, 0.403], tickvals=[-0.2, -0.1, 0.0, 0.1, 0.2, 0.3],
              ticktext=['-0.2', '-0.1', '0.0', '0.1', '0.2', '0.3']),
    '5': dict(range=[-5.15, 106.4], tickvals=list(range(0, 101, 10)),
              ticktext=[str(v) if v in (20, 50, 80) else '' for v in range(0, 101, 10)]),
    '6': dict(range=[8.4, 58.4], tickvals=list(range(10, 60, 5)),
              ticktext=[str(v) if v >= 15 else '' for v in range(10, 60, 5)]),
}

for k, (top, bot) in panels.items():
    xa = dict(domain=[xpx(X0), xpx(X1)], anchor='y' + k, range=xr,
              tickmode='array', tickvals=tickvals, ticktext=ticktext,
              showticklabels=k in ('2', '6'), ticks='', showgrid=False,
              zeroline=False, showline=True, linecolor=AXL, linewidth=1, mirror=True,
              tickfont=dict(family=TICKFONT, size=11, color='black'), fixedrange=True)
    if k in ('2', '6'):
        xa['minor'] = dict(tickmode='linear', tick0=0, dtick=1, ticks='outside', ticklen=2,
                           tickcolor='#9a9aa8', showgrid=False)
    layout['xaxis' + k] = xa
    yc = dict(domain=[ypx(bot), ypx(top)], anchor='x' + k, side='right', tickmode='array',
              showgrid=True, gridcolor=GRID, gridwidth=1, zeroline=False, showline=True, linecolor=AXL,
              linewidth=1, mirror=True, ticks='outside', ticklen=3, tickcolor='#9a9aa8',
              tickfont=dict(family=TICKFONT, size=11, color='black'), fixedrange=True)
    yc.update(yconf[k])
    layout['yaxis' + k] = yc

layout['xaxis2']['rangeslider'] = dict(visible=False)
for k in ('7', '8'):
    layout['yaxis' + k] = dict(overlaying='y2', anchor='x2', type='log', range=[lg_lo, lg_hi], visible=False,
                               showgrid=False, zeroline=False, fixedrange=True)

# ---------------- shapes ----------------
shapes = []
week_ticks = set(d * bars_per_day for d in week_start_days)
for k in panels:
    for tv in tickvals:
        shapes.append(dict(type='line', xref='x' + k, yref='y%s domain' % k, x0=tv, x1=tv, y0=0, y1=1,
                           line=dict(color=WEEK if tv in week_ticks else GRID, width=1), layer='below'))
for yref, lines in (('y', (30, 70)), ('y5', (20, 80))):
    xref = 'x domain' if yref == 'y' else 'x5 domain'
    for v in lines:
        shapes.append(dict(type='line', xref=xref, yref=yref, x0=0, x1=1, y0=v, y1=v,
                           line=dict(color=DARK, width=1.2), layer='above'))
    shapes.append(dict(type='line', xref=xref, yref=yref, x0=0, x1=1, y0=50, y1=50,
                       line=dict(color=DARK, width=1, dash='dashdot'), layer='above'))
layout['shapes'] = shapes

# ---------------- annotations ----------------
ann = []


def text_at(px, py, text, size=11, family=LEGFONT, color='black', anchor='left', bg=None):
    d = dict(xref='paper', yref='paper', x=xpx(px), y=ypx(py), text=text, showarrow=False,
             xanchor=anchor, yanchor='middle', font=dict(family=family, size=size, color=color))
    if bg:
        d.update(bgcolor=bg, borderpad=0)
    ann.append(d)


# header
text_at(16, 11, "<span style='font-size:15px'><b>$VIX</b></span> Volatility Index - New Methodology "
                "<span style='font-size:10px'>INDX</span>", size=12, family=TICKFONT)
text_at(16, 23.5, '31-Mar-2015 9:54am', size=11.5, family=TICKFONT)
text_at(1203, 10, '\u00a9 StockCharts.com', size=11.5, family=TICKFONT, color='#555555', anchor='right')
chg = closes[-1] - prev_day_close
sp = '\u00a0\u00a0'
text_at(1203, 23.5, ('<b>Open</b> %.2f%s<b>High</b> %.2f%s<b>Low</b> %.2f%s<b>Last</b> %.2f%s<b>Chg</b> %+.2f (%+.2f%%) \u25b2'
                     % (opens[-1], sp, highs[-1], sp, lows[-1], sp, closes[-1], sp, chg, 100 * chg / prev_day_close)),
        size=12, family=TICKFONT, anchor='right')

# panel legends
text_at(19, 36, "<span style='color:#556'>\u25b2</span> RSI(14) %.2f" % rsi[-1], bg=BG)
text_at(19, 181.7, "<b>\u2590\u258c</b> $VIX (60 min) %.2f" % closes[-1], bg=BG)
text_at(19, 192.7, "<span style='color:#b0b0bc'>\u25b2</span> BB(20,2.0) %.2f - %.2f - %.2f"
        % (bb_lower_pts[-1][1], bb_mid_pts[-1][1], bb_upper_pts[-1][1]), color='#9b9ba8', bg=BG)
for py, lab, pts, col in ((203.3, 'MA(10)', ma10_pts, '#e0002a'), (214.3, 'MA(50)', ma50_pts, '#006400'),
                          (225.3, 'MA(100)', ma100_pts, '#ff00ff'), (236.3, 'MA(200)', ma200_pts, '#9933ee')):
    text_at(19, py, '\u2501%s %.2f' % (lab, pts[-1][1]), color=col, bg=BG)
text_at(19, 610.3, "\u2501 MACD(12,26,9) %.3f, <span style='color:#ff0000'>%.3f</span>, "
                   "<span style='color:#4c9dd0'>%.3f</span>" % (macd_pts[-1][1], signal_pts[-1][1], macd_hist[-1]),
        bg=BG)
text_at(19, 755.3, "<span style='color:#3060a0'>\u2590</span> MACD(12,26,9) Hist %.3f" % macd_hist[-1], bg=BG)
text_at(19, 900.3, "\u2501 Full STO %%K(14,3) %%D(3) %.2f, <span style='color:#ff0000'>%.2f</span>"
        % (sto_k[-1], sto_d_pts[-1][1]), bg=BG)
text_at(19, 1045.3, "\u2501 ADX(14) %.2f <span style='color:#2b7b2b'>+DI %.2f</span> "
                    "<span style='color:#b01e4e'>-DI %.2f</span>" % (adx_pts[-1][1], plus_di[-1], minus_di[-1]),
        bg=BG)

# note boxes
for (cx, cy, w, h, txt, fs) in ((397.5, 153, 95, 40, note_texts[0], 16), (764, 183.5, 90, 41, note_texts[1], 16),
                                (712.5, 282, 151, 24, note_texts[2], 19)):
    ann.append(dict(xref='paper', yref='paper', x=xpx(cx), y=ypx(cy), text=txt, showarrow=False,
                    xanchor='center', yanchor='middle', align='left', width=w, height=h,
                    font=dict(family=TICKFONT, size=fs, color='black'),
                    bgcolor='white', bordercolor='#8a8a8a', borderwidth=1, borderpad=2))


# right-axis value tags
def tag(yref, val, color, bold=False, log=False, fmt='%.2f'):
    t = fmt % val
    if bold:
        t = '<b>%s</b>' % t
    ann.append(dict(xref='paper', yref=yref, x=xpx(1204), y=math.log10(val) if log else val, text=t,
                    showarrow=False, xanchor='left', yanchor='middle',
                    font=dict(family=TICKFONT, size=11.5 if bold else 11, color='black'),
                    bgcolor='white', bordercolor=color, borderwidth=1, borderpad=1))


tag('y', rsi[-1], 'black')
tag('y2', bb_upper_pts[-1][1], '#8d9aa6', log=True)
tag('y2', ma100_pts[-1][1], '#ff00ff', log=True)
tag('y2', closes[-1], 'black', bold=True, log=True)
tag('y2', ma200_pts[-1][1], '#9933ee', log=True)
tag('y2', ma10_pts[-1][1], '#dd1133', log=True)
tag('y2', ma50_pts[-1][1], '#006400', log=True)
tag('y2', bb_lower_pts[-1][1], '#8d9aa6', log=True)
tag('y3', macd_hist[-1], '#4c9dd0', fmt='%.3f')
tag('y3', signal_pts[-1][1], '#ff0000', fmt='%.3f')
tag('y3', macd_pts[-1][1], 'black', fmt='%.3f')
tag('y4', macd_hist[-1], '#4c9dd0', fmt='%.3f')
tag('y5', sto_k[-1], 'black')
tag('y5', sto_d_pts[-1][1], '#ff0000')
tag('y6', minus_di[-1], '#b01e4e')
tag('y6', plus_di[-1], '#2b7b2b')
tag('y6', adx_pts[-1][1], 'black')

layout['annotations'] = ann
fig.update_layout(**layout)

fig.write_html('out.html', config={'displayModeBar': False, 'staticPlot': False},
               post_script="document.body.style.margin='0';document.body.style.overflow='hidden';")
